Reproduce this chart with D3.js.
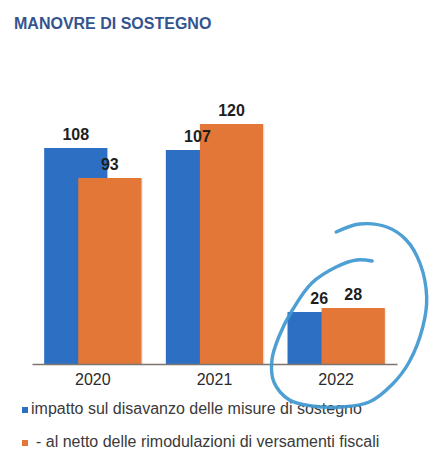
<!DOCTYPE html>
<html>
<head>
<meta charset="utf-8">
<script src="https://cdn.jsdelivr.net/npm/d3@7"></script>
<style>
  html, body { margin: 0; padding: 0; background: #fff; }
  svg { display: block; font-family: "Liberation Sans", Arial, sans-serif; }
</style>
</head>
<body>
<svg id="chart" width="431" height="457"></svg>
<script>
// Data: support packages (billions of euro)
const years = ["2020", "2021", "2022"];
const impatto = [108, 107, 26];        // impact on the deficit of the support measures
const alNetto = [93, 120, 28];         // net of the rescheduling of tax payments
const seriesLabels = [
  "impatto sul disavanzo delle misure di sostegno",
  "- al netto delle rimodulazioni di versamenti fiscali"
];
const title = "MANOVRE DI SOSTEGNO";

// Hand-drawn ring around the 2022 group: [fraction of band width, value units]
const ring = [
  [0.50, 66], [0.74, 70], [1.02, 68.5], [1.22, 62], [1.36, 50.5], [1.43, 33.5],
  [1.39, 18.5], [1.25, 1], [1.08, -10], [0.84, -19], [0.56, -21.5], [0.25, -21],
  [0.02, -18], [-0.14, -9], [-0.16, 2], [-0.09, 13.5], [0.05, 27], [0.25, 40.5],
  [0.50, 48.5], [0.71, 52], [0.87, 51.5]
];

const colBlue = "#2d70c3";
const colOrange = "#e27737";

const svg = d3.select("#chart");

const x = d3.scaleBand().domain(years).range([32, 397]).paddingInner(0.2).paddingOuter(0.1);
const y = d3.scaleLinear().domain([0, 120]).range([364, 124]);

const bw = x.bandwidth();
const barW = bw * 0.65;
const offset = bw - barW;

// Title
svg.append("text")
  .attr("x", 14).attr("y", 29)
  .attr("font-size", 16).attr("font-weight", "bold")
  .attr("fill", "#34548f")
  .text(title);

// Bars
const groups = svg.append("g").selectAll("g")
  .data(years.map((yr, i) => ({ yr, a: impatto[i], b: alNetto[i] })))
  .join("g")
  .attr("transform", d => `translate(${x(d.yr)},0)`);

groups.append("rect")
  .attr("x", 0).attr("y", d => y(d.a))
  .attr("width", barW).attr("height", d => y(0) - y(d.a))
  .attr("fill", colBlue);

groups.append("rect")
  .attr("x", offset + 1.5).attr("y", d => y(d.b) + 1)
  .attr("width", barW).attr("height", d => y(0) - y(d.b) - 1)
  .attr("fill", "#000").attr("opacity", 0.08);

groups.append("rect")
  .attr("x", offset).attr("y", d => y(d.b))
  .attr("width", barW).attr("height", d => y(0) - y(d.b))
  .attr("fill", colOrange);

// Value labels
groups.append("text")
  .attr("x", barW / 2).attr("y", d => y(d.a) - 8)
  .attr("text-anchor", "middle")
  .attr("font-size", 16).attr("font-weight", "bold").attr("fill", "#1e1e1e")
  .text(d => d.a);

groups.append("text")
  .attr("x", offset + barW / 2).attr("y", d => y(d.b) - 8)
  .attr("text-anchor", "middle")
  .attr("font-size", 16).attr("font-weight", "bold").attr("fill", "#1e1e1e")
  .text(d => d.b);

// Category axis
const axis = svg.append("g")
  .attr("transform", `translate(0,${y(0)})`)
  .call(d3.axisBottom(x).tickSize(0).tickPadding(10));
axis.select(".domain").attr("stroke", "#7d7570").attr("stroke-width", 1.6);
axis.selectAll(".tick text")
  .attr("font-size", 16).attr("fill", "#2b2b2b")
  .attr("font-family", "Liberation Sans, Arial, sans-serif");

// Legend
const legend = svg.append("g");
const legendRows = [
  { label: seriesLabels[0], color: colBlue, ty: 414, tx: 31 },
  { label: seriesLabels[1], color: colOrange, ty: 447, tx: 36 }
];
legendRows.forEach(r => {
  legend.append("rect")
    .attr("x", 22).attr("y", r.ty - 7).attr("width", 6).attr("height", 6)
    .attr("fill", r.color);
  legend.append("text")
    .attr("x", r.tx).attr("y", r.ty)
    .attr("font-size", 16).attr("fill", "#3a3a3a")
    .text(r.label);
});

// Ring annotation around 2022
const x22 = x("2022");
const ringLine = d3.line()
  .x(d => x22 + d[0] * bw)
  .y(d => y(d[1]))
  .curve(d3.curveCatmullRom.alpha(0.5));
svg.append("path")
  .attr("d", ringLine(ring))
  .attr("fill", "none")
  .attr("stroke", "#3e97d0")
  .attr("stroke-width", 3.4)
  .attr("stroke-linecap", "round")
  .attr("opacity", 0.92);
</script>
</body>
</html>
